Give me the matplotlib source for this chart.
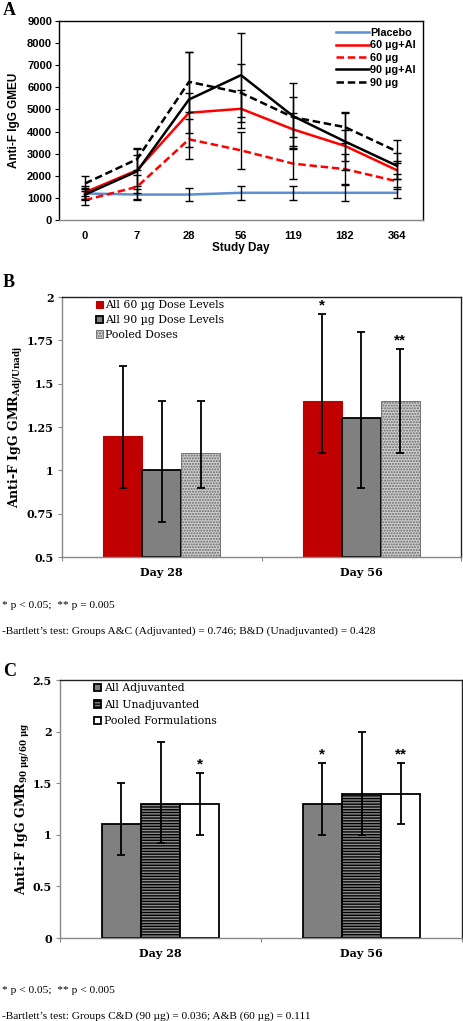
import matplotlib
matplotlib.use("Agg")
import matplotlib.pyplot as plt
import numpy as np

plt.rcParams['mathtext.fontset'] = 'dejavuserif'
plt.rcParams['hatch.linewidth'] = 1.0

# ---------------- Panel A data ----------------
days = ["0", "7", "28", "56", "119", "182", "364"]
placebo = [1200, 1150, 1150, 1230, 1230, 1230, 1230]
sixty_al = [1250, 2250, 4850, 5030, 4100, 3350, 2250]
sixty = [900, 1500, 3650, 3150, 2550, 2300, 1750]
ninety_al = [1150, 2200, 5450, 6550, 4700, 3550, 2450]
ninety = [1650, 2750, 6250, 5750, 4650, 4200, 3100]
placebo_err = [250, 250, 300, 320, 320, 380, 250]
sixty_al_err = [300, 700, 900, 850, 750, 700, 400]
sixty_err = [200, 550, 900, 850, 700, 700, 350]
ninety_al_err = [250, 1000, 2150, 1900, 1500, 1300, 600]
ninety_err = [350, 500, 1350, 1300, 900, 700, 500]
series_names = ["Placebo", "60 µg+Al", "60 µg", "90 µg+Al", "90 µg"]

# ---------------- Panel B data ----------------
groups = ["Day 28", "Day 56"]
b_names = ["All 60 µg Dose Levels", "All 90 µg Dose Levels", "Pooled Doses"]
b_vals = [[1.2, 1.4], [1.0, 1.3], [1.1, 1.4]]
b_low = [[0.9, 1.1], [0.7, 0.9], [0.9, 1.1]]
b_high = [[1.6, 1.9], [1.4, 1.8], [1.4, 1.7]]
b_stars = [["", "*"], ["", ""], ["", "**"]]

# ---------------- Panel C data ----------------
c_names = ["All Adjuvanted", "All Unadjuvanted", "Pooled Formulations"]
c_vals = [[1.1, 1.3], [1.3, 1.4], [1.3, 1.4]]
c_low = [[0.8, 1.0], [0.92, 1.0], [1.0, 1.1]]
c_high = [[1.5, 1.7], [1.9, 2.0], [1.6, 1.7]]
c_stars = [["", "*"], ["", ""], ["*", "**"]]

W, H = 463, 1021
fig = plt.figure(figsize=(W / 100, H / 100), dpi=100)

def rect(l, t, r, b):
    return [l / W, 1 - b / H, (r - l) / W, (b - t) / H]

SANS = "Liberation Sans"
SERIF = "DejaVu Serif"
TIMES = "Liberation Serif"

# ---------------- Panel A ----------------
axA = fig.add_axes(rect(59, 21, 423, 220))
x = np.arange(len(days))
styles = [
    (placebo, placebo_err, "#5b8fd0", "-"),
    (sixty_al, sixty_al_err, "#ff0000", "-"),
    (sixty, sixty_err, "#ff0000", "--"),
    (ninety_al, ninety_al_err, "#000000", "-"),
    (ninety, ninety_err, "#000000", "--"),
]
for (vals, err, col, ls), name in zip(styles, series_names):
    axA.plot(x, vals, color=col, ls=ls, lw=1.8, label=name,
             dashes=(3, 1.5) if ls == "--" else (None, None))
    axA.errorbar(x, vals, yerr=err, fmt="none", ecolor="black", elinewidth=1.0,
                 capsize=3, capthick=1.0)
axA.set_xlim(-0.5, 6.5)
axA.set_ylim(0, 9000)
axA.set_yticks(np.arange(0, 9001, 1000))
axA.set_xticks(x)
axA.set_xticklabels(days)
for lab in axA.get_xticklabels() + axA.get_yticklabels():
    lab.set_fontfamily(SANS)
    lab.set_fontweight("bold")
    lab.set_fontsize(8)
axA.tick_params(axis="x", length=0, pad=8)
axA.tick_params(axis="y", length=3, width=0.8, direction="out", pad=2)
for s in axA.spines.values():
    s.set_linewidth(1.0)
    s.set_color("black")
axA.spines["bottom"].set_color("#888888")
axA.set_xlabel("Study Day", fontfamily=SANS, fontweight="bold", fontsize=8.5, labelpad=1)
axA.set_ylabel("Anti-F IgG GMEU", fontfamily=SANS, fontweight="bold", fontsize=8.5, labelpad=5)
legA = axA.legend(loc="upper right", frameon=False, handlelength=3.0, handletextpad=0.15,
                  labelspacing=0.22, borderaxespad=0.25,
                  prop={"family": SANS, "size": 7.8, "weight": "bold"})
fig.text(3 / W, 1 - 15 / H, "A", fontfamily=TIMES, fontweight="bold", fontsize=13)

# ---------------- helper for bar panels ----------------
def bar_panel(ax, vals, low, high, stars, names, styles_bar, ylim, yticks, yticklabels,
              ylabel, legend_spacing, ylabelpad):
    gx = np.arange(len(groups))
    w = 0.195
    handles = []
    for i, (v, lo, hi, st, nm, sty) in enumerate(zip(vals, low, high, stars, names, styles_bar)):
        pos = gx + (i - 1) * w
        v = np.array(v)
        yerr = [v - np.array(lo), np.array(hi) - v]
        bars = ax.bar(pos, v - ylim[0], width=w, bottom=ylim[0], label=nm, **sty, zorder=2)
        handles.append(bars)
        ax.errorbar(pos, v, yerr=yerr, fmt="none", ecolor="black", elinewidth=1.3,
                    capsize=3.2, capthick=1.3, zorder=3)
        for p, h, s in zip(pos, hi, st):
            if s:
                ax.text(p, h + (ylim[1] - ylim[0]) * 0.006, s, ha="center", va="bottom",
                        fontfamily=SANS, fontweight="bold", fontsize=11)
    ax.set_xlim(-0.5, 1.5)
    ax.set_ylim(*ylim)
    ax.set_yticks(yticks)
    ax.set_yticklabels(yticklabels)
    ax.set_xticks(gx)
    ax.set_xticklabels(groups)
    ax.set_xticks([-0.5, 0.5, 1.5], minor=True)
    ax.tick_params(axis="x", which="major", length=0, pad=7)
    ax.tick_params(axis="x", which="minor", length=3, width=0.8, color="#888888", direction="out")
    ax.tick_params(axis="y", length=3, width=0.8, color="#888888", direction="out", pad=3)
    for lab in ax.get_xticklabels() + ax.get_yticklabels():
        lab.set_fontfamily(SERIF)
        lab.set_fontweight("bold")
        lab.set_fontsize(8)
    ax.spines["left"].set_color("#888888")
    ax.spines["bottom"].set_color("#888888")
    ax.spines["top"].set_color("#222222")
    ax.spines["right"].set_color("#222222")
    for s in ax.spines.values():
        s.set_linewidth(1.0)
    ax.set_ylabel(ylabel, fontfamily=SERIF, fontweight="bold", fontsize=9, labelpad=ylabelpad)
    ax.legend(handles=handles, loc="upper left", bbox_to_anchor=(0.06, 1.025), frameon=False,
              handlelength=0.7, handleheight=0.7, handletextpad=0.2,
              labelspacing=legend_spacing, prop={"family": SERIF, "size": 7.8})

# ---------------- Panel B ----------------
axB = fig.add_axes(rect(62, 297, 461, 557))
b_styles = [
    dict(color="#c00000", edgecolor="#c00000", linewidth=0.8),
    dict(color="#808080", edgecolor="black", linewidth=1.3),
    dict(facecolor="#d0d0d0", edgecolor="#666666", hatch="......", linewidth=0.6),
]
bar_panel(axB, b_vals, b_low, b_high, b_stars, b_names, b_styles, (0.5, 2.0),
          [0.5, 0.75, 1.0, 1.25, 1.5, 1.75, 2.0], ["0.5", "0.75", "1", "1.25", "1.5", "1.75", "2"],
          r"Anti-F IgG GMR$_{\mathbf{Adj/Unadj}}$", 0.45, 1)
fig.text(3 / W, 1 - 287 / H, "B", fontfamily=TIMES, fontweight="bold", fontsize=13)
fig.text(2 / W, 1 - 608 / H, "* p < 0.05;  ** p = 0.005", fontfamily=TIMES, fontsize=8.2)
fig.text(2 / W, 1 - 634 / H,
         "-Bartlett\u2019s test: Groups A&C (Adjuvanted) = 0.746; B&D (Unadjuvanted) = 0.428",
         fontfamily=TIMES, fontsize=8.2)

# ---------------- Panel C ----------------
axC = fig.add_axes(rect(60, 680, 462, 938))
c_styles = [
    dict(color="#808080", edgecolor="black", linewidth=1.3),
    dict(facecolor="#8c8c8c", edgecolor="black", hatch="------", linewidth=1.3),
    dict(color="white", edgecolor="black", linewidth=1.3),
]
bar_panel(axC, c_vals, c_low, c_high, c_stars, c_names, c_styles, (0.0, 2.5),
          [0, 0.5, 1.0, 1.5, 2.0, 2.5], ["0", "0.5", "1", "1.5", "2", "2.5"],
          r"Anti-F IgG GMR$_{\mathbf{90\ \mu g/60\ \mu g}}$", 0.6, 0)
fig.text(3 / W, 1 - 676 / H, "C", fontfamily=TIMES, fontweight="bold", fontsize=13)
fig.text(2 / W, 1 - 993 / H, "* p < 0.05;  ** p < 0.005", fontfamily=TIMES, fontsize=8.2)
fig.text(2 / W, 1 - 1019 / H,
         "-Bartlett\u2019s test: Groups C&D (90 µg) = 0.036; A&B (60 µg) = 0.111",
         fontfamily=TIMES, fontsize=8.2)

fig.savefig("out.png", dpi=100)
